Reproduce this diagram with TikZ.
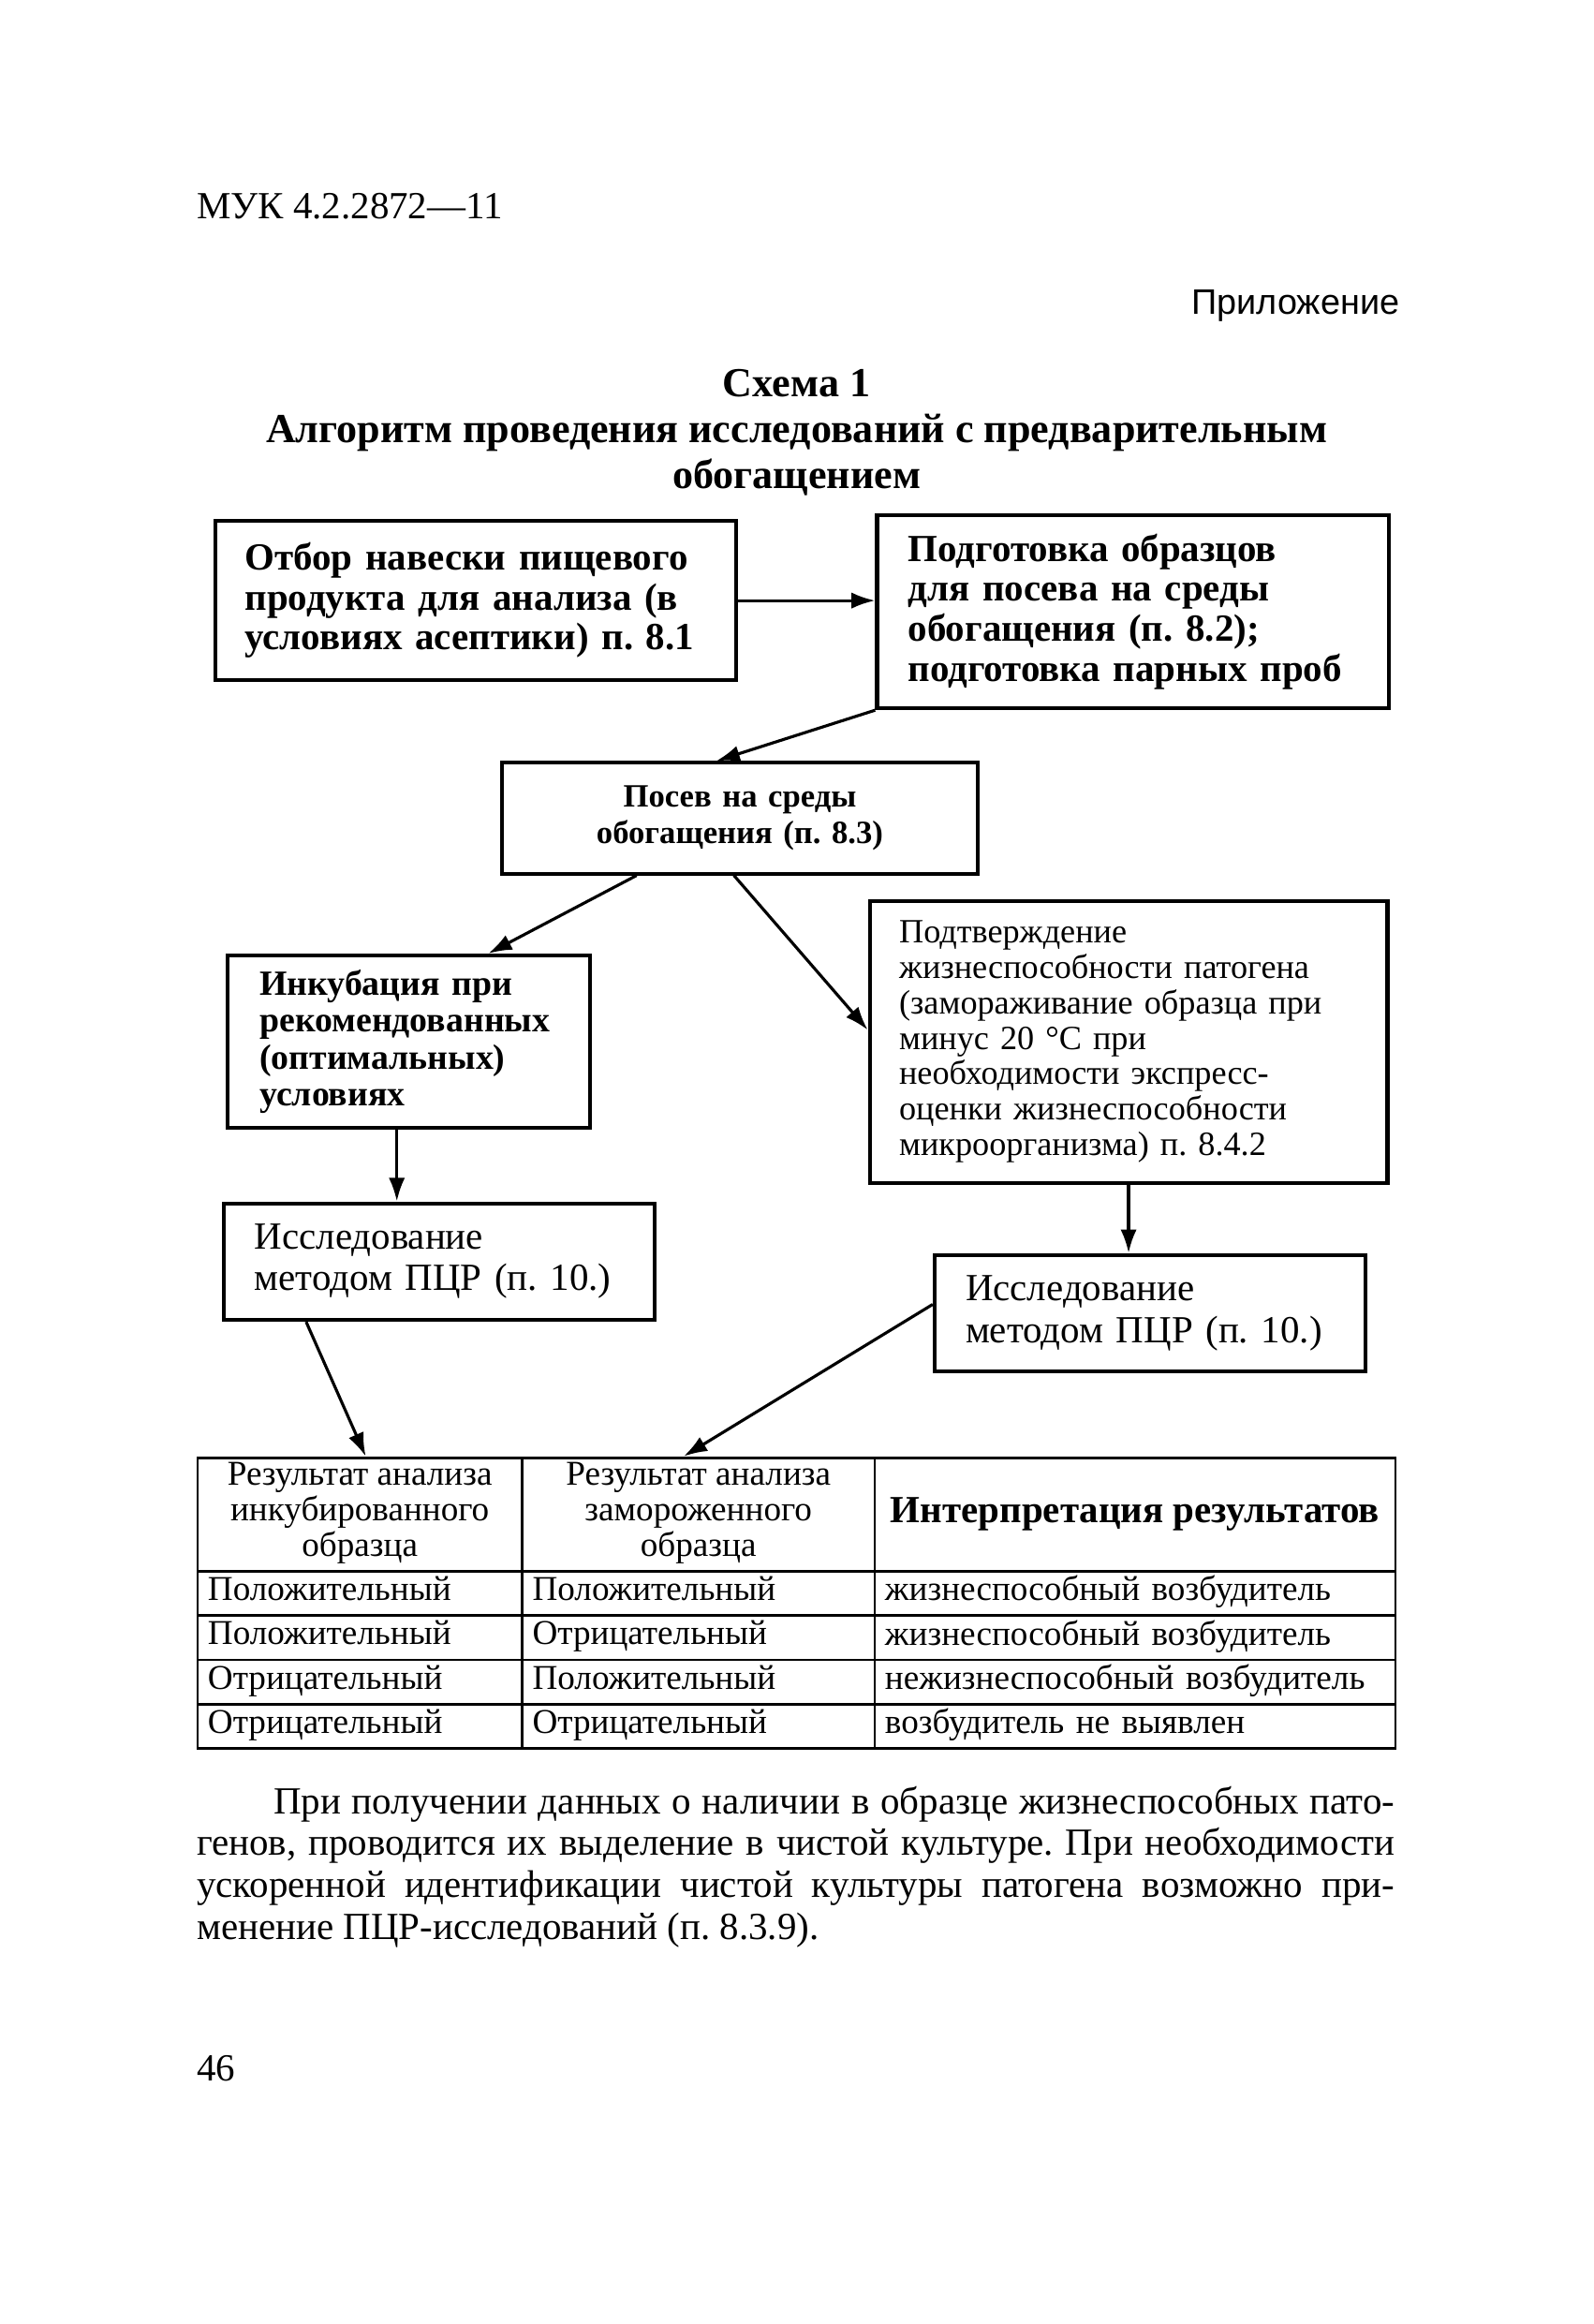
\documentclass[tikz,border=0pt]{standalone}
\usepackage{fontspec}
\setmainfont{Liberation Serif}
\newfontfamily\annexfont{Liberation Sans}
\usetikzlibrary{positioning}
\usetikzlibrary{arrows.meta}
\usetikzlibrary{calc}
\tikzset {
  % step boxes of the scheme
  box/.style = {draw, line width=1.3pt, inner xsep=10pt, inner ysep=0pt, align=left},
  boldbox/.style = {box, font=\bfseries\fontsize{13}{13.5}\selectfont},
  plainbox/.style = {box, font=\fontsize{11.5}{12}\selectfont},
  pcrbox/.style = {box, inner xsep=10.5pt, text width=125pt, minimum height=39.5pt, font=\fontsize{13}{14}\selectfont},
  % connectors
  flow/.style = {-{Latex[length=8pt,width=5.5pt]}, line width=1pt},
  % cells of the results table
  cell/.style = {draw, line width=0.9pt, anchor=north west, inner xsep=3.5pt, inner ysep=0pt, minimum height=15pt, align=left, font=\fontsize{11.8}{12}\selectfont, execute at begin node=\strut},
  headcell/.style = {cell, align=center, minimum height=38.5pt},
}

\begin{document}
\begin{tikzpicture}[x=0.5pt, y=-0.5pt]
  \fill[white] (0,0) rectangle (1080,1575);
  \useasboundingbox (0,0) rectangle (1080,1575);

  % page head
  \node[anchor=base west, inner sep=0pt, font=\fontsize{13}{13}\selectfont] (doc) at (133,148) {МУК 4.2.2872—11};
  \node[anchor=base east, inner sep=0pt, font=\annexfont\fontsize{12}{12}\selectfont] (annex) at (949,213) {Приложение};
  \node[align=center, inner sep=0pt, font=\bfseries\fontsize{14}{15.5}\selectfont] (title) at (540,293)
    {Схема 1\\ Алгоритм проведения исследований с предварительным\\ обогащением};

  % scheme
  \node[boldbox, text width=156.5pt, minimum height=54pt] (sample) at (322.5,407)
    {Отбор навески пищевого\\ продукта для анализа (в\\ условиях асептики) п.~8.1};
  \node[boldbox, inner xsep=10.5pt, text width=152.5pt, minimum height=65.5pt] (prep) at (768,414.5)
    {Подготовка образцов\\ для посева на среды\\ обогащения (п.~8.2);\\ подготовка парных проб};
  \node[box, align=center, text width=141.5pt, minimum height=37.5pt, font=\bfseries\fontsize{11}{12.5}\selectfont] (sowing) at (501.5,554.5)
    {Посев на среды\\ обогащения (п.~8.3)};
  \node[box, inner xsep=11pt, text width=101pt, minimum height=58.5pt, font=\bfseries\fontsize{12}{12.5}\selectfont] (incubate) at (277,706)
    {Инкубация при\\ рекомендованных\\ (оптимальных)\\ условиях};
  \node[plainbox, text width=155.5pt, minimum height=95.5pt] (confirm) at (765,706)
    {Подтверждение\\ жизнеспособности патогена\\ (замораживание образца при\\ минус 20~°C при\\ необходимости экспресс-\\оценки жизнеспособности\\ микроорганизма) п.~8.4.2};
  \node[pcrbox] (pcrA) at (297.5,855) {Исследование\\ методом ПЦР (п.~10.)};
  \node[pcrbox] (pcrB) at (779.5,890) {Исследование\\ методом ПЦР (п.~10.)};

  % results table
  \node[headcell, minimum width=110pt] (resInc) at (133,987) {Результат анализа\\ инкубированного\\ образца};
  \node[headcell, minimum width=119.5pt] (resFrz) at (353,987) {Результат анализа\\ замороженного\\ образца};
  \node[headcell, minimum width=176.5pt, font=\bfseries\fontsize{13}{13}\selectfont] (interp) at (592,987) {Интерпретация результатов};
  \foreach \inc/\frz/\verdict [count=\r from 0] in {
      Положительный/Положительный/жизнеспособный возбудитель,
      Положительный/Отрицательный/жизнеспособный возбудитель,
      Отрицательный/Положительный/нежизнеспособный возбудитель,
      Отрицательный/Отрицательный/возбудитель не выявлен} {
    \node[cell, text width=103pt] (inc\r) at (133,{1064+30*\r}) {\inc};
    \node[cell, text width=112.5pt] (frz\r) at (353,{1064+30*\r}) {\frz};
    \node[cell, text width=169.5pt] (res\r) at (592,{1064+30*\r}) {\verdict};
  }

  \draw[flow] (sample.east) -- (sample.east -| prep.west);
  \draw[flow] (prep.south west) -- ([xshift=-8pt]sowing.north);
  \draw[flow] ([xshift=-35pt]sowing.south) -- ([xshift=27pt]incubate.north);
  \draw[flow] ([xshift=-2pt]sowing.south) -- ([yshift=4pt]confirm.west);
  \draw[flow] ([xshift=-4pt]incubate.south) -- ([xshift=-4pt]incubate.south |- pcrA.north);
  \draw[flow] (confirm.south) -- (confirm.south |- pcrB.north);
  \draw[flow] ([xshift=-45pt]pcrA.south) -- ([xshift=2pt]resInc.north);
  \draw[flow] ([yshift=3pt]pcrB.west) -- ([xshift=-5pt]resFrz.north);

  % text under the table
  \node[anchor=north west, inner sep=0pt, align=left, font=\fontsize{13}{14.25}\selectfont\frenchspacing] (note) at (133,1210)
    {\makebox[406pt][s]{\hspace{26pt}При получении данных о наличии в образце жизнеспособных пато-}\\
     \makebox[406pt][s]{генов, проводится их выделение в чистой культуре. При необходимости}\\
     \makebox[406pt][s]{ускоренной идентификации чистой культуры патогена возможно при-}\\
     менение ПЦР-исследований (п.~8.3.9).};
  \node[anchor=base west, inner sep=0pt, font=\fontsize{13}{13}\selectfont] (page) at (133,1410) {46};
\end{tikzpicture}
\end{document}
